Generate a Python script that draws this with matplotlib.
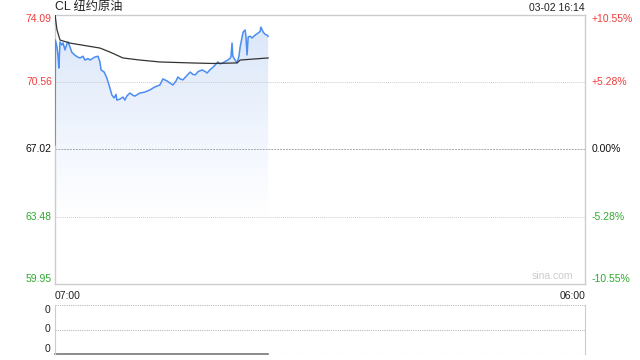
import numpy as np
import matplotlib.pyplot as plt
from matplotlib.colors import LinearSegmentedColormap
from matplotlib.transforms import blended_transform_factory

plt.rcParams['font.family'] = ['Liberation Sans', 'Noto Sans CJK SC', 'DejaVu Sans']

# ---------------------------------------------------------------------------
# data (minutes since 07:00)
# ---------------------------------------------------------------------------
title = 'CL 纽约原油'
stamp = '03-02 16:14'
prev_close = 67.02
y_ticks = [74.09, 70.56, 67.02, 63.48, 59.95]
pct_labels = ['+10.55%', '+5.28%', '0.00%', '-5.28%', '-10.55%']
x_labels = ['07:00', '06:00']
session_len = 1380

price_t = [0, 1, 5, 8, 10, 13, 18, 21, 26, 31, 34, 39, 44, 52, 60, 65, 73, 78,
           86, 91, 99, 104, 112, 117, 120, 128, 135, 143, 148, 154, 159, 161,
           169, 177, 182, 187, 195, 203, 208, 221, 234, 247, 260, 273, 281, 292,
           299, 307, 315, 320, 326, 333, 344, 352, 359, 365, 373, 383, 391, 396,
           404, 409, 417, 424, 430, 437, 445, 450, 456, 458, 461, 463, 469, 474,
           479, 482, 487, 490, 495, 497, 500, 503, 508, 513, 521, 529, 534, 536,
           542, 547, 552, 555]
price = [67.24, 72.75, 72.40, 71.90, 71.28, 72.65, 72.49, 72.60, 72.23, 72.55,
         72.65, 72.38, 72.10, 71.95, 71.85, 71.81, 71.90, 71.70, 71.78, 71.70,
         71.80, 71.86, 71.90, 71.60, 71.18, 71.07, 70.76, 70.23, 69.87, 69.71,
         69.90, 69.60, 69.65, 69.76, 69.60, 69.81, 69.97, 69.85, 69.81, 69.97,
         70.02, 70.13, 70.29, 70.39, 70.71, 70.60, 70.50, 70.39, 70.60, 70.81,
         70.71, 70.66, 70.90, 71.07, 70.95, 70.92, 71.10, 71.18, 71.10, 71.02,
         71.20, 71.28, 71.44, 71.60, 71.50, 71.55, 71.65, 71.70, 71.80, 71.86,
         72.59, 71.90, 71.70, 71.55, 71.90, 72.38, 72.90, 73.17, 73.28, 73.00,
         71.97, 72.91, 72.95, 72.86, 73.01, 73.12, 73.20, 73.43, 73.17, 73.05,
         73.01, 72.95]

avg_t = [0, 5, 13, 39, 117, 143, 177, 221, 273, 352, 412, 474, 482, 495, 555]
avg = [74.09, 73.30, 72.75, 72.59, 72.33, 72.12, 71.81, 71.70, 71.60, 71.55,
       71.52, 71.55, 71.70, 71.72, 71.81]

vol_labels = ['0', '0', '0']

# ---------------------------------------------------------------------------
# figure
# ---------------------------------------------------------------------------
fig = plt.figure(figsize=(6.4, 3.6), dpi=100)
ax = fig.add_axes([55 / 640, 1 - 284 / 360, 530 / 640, 269.5 / 360])
vax = fig.add_axes([55 / 640, 1 - 354 / 360, 530 / 640, 49 / 360])

ymin, ymax = y_ticks[-1], y_ticks[0]
ax.set_xlim(0, session_len)
ax.set_ylim(ymin, ymax)

# gradient fill under the price line (fades to white near the bottom)
fill = ax.fill_between(price_t, price, ymin, color='none', lw=0)
cmap = LinearSegmentedColormap.from_list('bl', ['#ffffff', '#ffffff', '#f3f7fe', '#e6eefb', '#d8e5f9'])
grad = ax.imshow(np.linspace(0, 1, 256).reshape(-1, 1), extent=[0, price_t[-1], ymin, ymax],
                 origin='lower', aspect='auto', cmap=cmap, zorder=1)
grad.set_clip_path(fill.get_paths()[0], transform=ax.transData)

ax.plot(price_t, price, color='#4b8df0', lw=1.1, zorder=3)
ax.plot(avg_t, avg, color='#333333', lw=0.9, zorder=4)

# grid lines
for v in y_ticks[1:-1]:
    if v == prev_close:
        ax.axhline(v, color='#aaaaaa', lw=0.7, ls=(0, (2, 1)), zorder=2)
    else:
        ax.axhline(v, color='#cccccc', lw=0.7, ls=(0, (1, 1)), zorder=2)

for s in ax.spines.values():
    s.set_color('#cccccc')
    s.set_linewidth(1)
ax.set_xticks([])
ax.set_yticks([])

tl = blended_transform_factory(ax.transAxes, ax.transData)
for i, (v, lab) in enumerate(zip(y_ticks, pct_labels)):
    col = '#f03c3c' if v > prev_close else ('#111111' if v == prev_close else '#2eaa2e')
    va = 'top' if i == 0 else ('bottom' if i == len(y_ticks) - 1 else 'center')
    ax.text(-0.006, v, f'{v:.2f}', transform=tl, ha='right', va=va,
            color=col, fontsize=7.5)
    ax.text(1.012, v, lab, transform=tl, ha='left', va=va, color=col, fontsize=7.5)

ax.text(0, 1.004, title, transform=ax.transAxes, ha='left', va='bottom',
        fontsize=8.8, color='#222222')
ax.text(1, 1.006, stamp, transform=ax.transAxes, ha='right', va='bottom',
        fontsize=7.5, color='#222222')
ax.text(0.978, 0.01, 'sina.com', transform=ax.transAxes, ha='right', va='bottom',
        fontsize=7.5, color='#cccccc')
ax.text(0, -0.025, x_labels[0], transform=ax.transAxes, ha='left', va='top',
        fontsize=7.5, color='#222222')
ax.text(1, -0.025, x_labels[1], transform=ax.transAxes, ha='right', va='top',
        fontsize=7.5, color='#222222')

# volume panel
vax.set_xlim(0, session_len)
vax.set_ylim(0, 1)
for v in [0, 0.5, 1]:
    vax.axhline(v, color='#bbbbbb', lw=0.8, ls=(0, (1, 1)))
vax.plot([0, price_t[-1]], [0.0, 0.0], color='#777777', lw=1.2, clip_on=False)
for k in ['top', 'bottom']:
    vax.spines[k].set_visible(False)
for k in ['left', 'right']:
    vax.spines[k].set_color('#cccccc')
vax.set_xticks([])
vax.set_yticks([])
for v, lab in zip([0.9, 0.5, 0.1], vol_labels):
    vax.text(-0.008, v, lab, transform=vax.transAxes, ha='right', va='center',
             fontsize=7.5, color='#222222')

fig.savefig('out.png', dpi=100)
